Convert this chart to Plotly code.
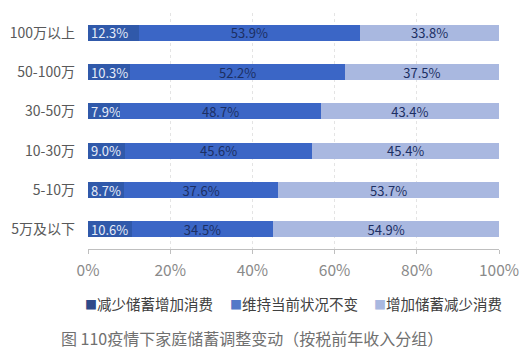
import plotly.graph_objects as go

categories = ["5万及以下", "5-10万", "10-30万", "30-50万", "50-100万", "100万以上"]
reduce_save = [10.6, 8.7, 9.0, 7.9, 10.3, 12.3]
keep_same = [34.5, 37.6, 45.6, 48.7, 52.2, 53.9]
increase_save = [54.9, 53.7, 45.4, 43.4, 37.5, 33.8]
series_names = ["减少储蓄增加消费", "维持当前状况不变", "增加储蓄减少消费"]
series_colors = ["#3059aa", "#3b66c6", "#a9b8e0"]
legend_marker_colors = ["#2e4a8a", "#5578c8", "#a9b8e0"]
tick_vals = [0, 20, 40, 60, 80, 100]
tick_text = ["0%", "20%", "40%", "60%", "80%", "100%"]
caption = "图 110疫情下家庭储蓄调整变动（按税前年收入分组）"

font_family = "Noto Sans CJK SC, Noto Sans, sans-serif"

fig = go.Figure()
fig.add_trace(go.Bar(
    y=categories, x=reduce_save, orientation="h", name=series_names[0],
    marker=dict(color=series_colors[0], line=dict(width=0)),
    text=[f"{v:.1f}%" for v in reduce_save], textposition="inside",
    insidetextanchor="start", constraintext="none",
    textfont=dict(color="#e6ecf8", size=13, family=font_family),
))
fig.add_trace(go.Bar(
    y=categories, x=keep_same, orientation="h", name=series_names[1],
    marker=dict(color=series_colors[1], line=dict(width=0)),
    text=[f"{v:.1f}%" for v in keep_same], textposition="inside",
    insidetextanchor="middle", constraintext="none",
    textfont=dict(color="#1c2f63", size=13, family=font_family),
))
fig.add_trace(go.Bar(
    y=categories, x=increase_save, orientation="h", name=series_names[2],
    marker=dict(color=series_colors[2], line=dict(width=0)),
    text=[f"{v:.1f}%" for v in increase_save], textposition="inside",
    insidetextanchor="middle", constraintext="none",
    textfont=dict(color="#1c2f63", size=13, family=font_family),
))

legend_x = [-0.012, 0.341, 0.691]
annotations = []
for name, col, lx in zip(series_names, legend_marker_colors, legend_x):
    annotations.append(dict(
        text=f"<span style='color:{col};font-size:12px'>■</span>{name}",
        xref="paper", yref="paper", x=lx, y=-0.229, xanchor="left", yanchor="middle",
        showarrow=False, font=dict(size=14.5, color="#404040", family=font_family)))
annotations.append(dict(text=caption, xref="paper", yref="paper", x=0.40, y=-0.377,
                        xanchor="center", yanchor="middle", showarrow=False,
                        font=dict(size=16, color="#707070", family=font_family)))

fig.update_layout(
    width=520, height=354,
    barmode="stack", bargap=0.59,
    uniformtext=dict(mode="show", minsize=13),
    paper_bgcolor="white", plot_bgcolor="white",
    margin=dict(l=80, r=29, t=5, b=113, autoexpand=False),
    font=dict(family=font_family, color="#595959"),
    showlegend=False,
    annotations=annotations,
)
fig.update_xaxes(range=[0, 100], tickvals=tick_vals, ticktext=tick_text,
                 showgrid=True, gridcolor="#e4e4e4", griddash="dot", gridwidth=1,
                 showline=True, linecolor="#bfbfbf", linewidth=1,
                 ticks="outside", ticklen=4, tickcolor="#bfbfbf", automargin=False,
                 ticklabelstandoff=3,
                 tickfont=dict(size=15.5, color="#8a8a8a"), zeroline=False, fixedrange=True)
fig.update_yaxes(categoryorder="array", categoryarray=categories, automargin=False,
                 tickfont=dict(size=14, color="#595959"), ticks="", showline=False,
                 ticklabelstandoff=12, fixedrange=True)
fig.update_traces(cliponaxis=False)
fig.write_html("out.html")
